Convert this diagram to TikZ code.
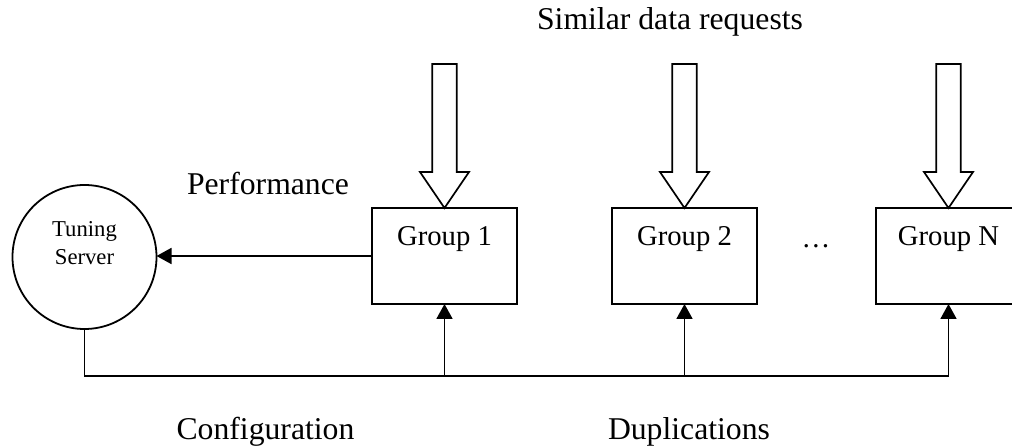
\documentclass[tikz,border=0pt]{standalone}
\usepackage{fontspec}
\setmainfont{Liberation Serif}
\usetikzlibrary{arrows.meta}
\begin{document}
\begin{tikzpicture}[x=1pt,y=-1pt,
  every node/.style={inner sep=0pt,outer sep=0pt},
  lbl/.style={font=\fontsize{31.7}{38}\selectfont,anchor=base},
  glbl/.style={font=\fontsize{28.7}{34}\selectfont,anchor=base},
  grp/.style={draw,line width=1.8pt,minimum width=145pt,minimum height=96pt},
  srv/.style={draw,circle,line width=1.8pt,minimum size=144pt},
  hollow/.style={draw,line width=1.7pt,line join=miter,fill=white},
  conn/.style={line width=1.8pt},
  arr/.style={conn,-{Triangle[length=15pt,width=16pt]}}
]
\useasboundingbox (0,0) rectangle (1012,446);
% nodes
\node[srv] (server) at (84.5,257) {};
\node[align=center,font=\fontsize{22.7}{27.7}\selectfont] (srvtext) at (84.5,243) {Tuning\\Server};
\node[grp] (g1) at (444.5,256) {};
\node[grp] (g2) at (684.5,256) {};
\node[grp] (gN) at (948.5,256) {};
\node[glbl] (t1) at (444.5,245.7) {Group 1};
\node[glbl] (t2) at (684.5,245.7) {Group 2};
\node[glbl] (tN) at (948.5,245.7) {Group N};
\node[glbl] (dots) at (816,248) {…};
% labels
\node[lbl] (req) at (670,30) {Similar data requests};
\node[lbl] (perf) at (268,195) {Performance};
\node[lbl] (conf) at (265.5,439) {Configuration};
\node[lbl] (dup) at (689,439) {Duplications};
% hollow request arrows
\foreach \g in {g1,g2,gN}{
  \draw[hollow] (\g.north) -- ++(24.5,-36) -- ++(-12.3,0) -- ++(0,-108)
     -- ++(-24.4,0) -- ++(0,108) -- ++(-12.3,0) -- cycle;
}
% performance
\draw[arr] (g1.west) -- (g1.west -| server.east);
% bus
\coordinate (bus) at (0,376);
\draw[conn] (server.south) -- (server.south |- bus) -- (gN.south |- bus);
\foreach \g in {g1,g2,gN}{
  \draw[arr] (\g.south |- bus) -- (\g.south);
}
\end{tikzpicture}
\end{document}
